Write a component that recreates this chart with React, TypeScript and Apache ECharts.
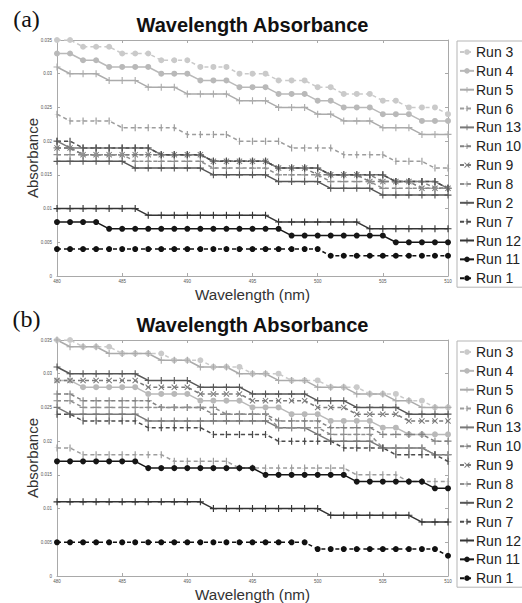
import React, { useEffect, useRef } from "react";
import * as echarts from "echarts";

const wavelengths = [480, 481, 482, 483, 484, 485, 486, 487, 488, 489, 490, 491, 492, 493, 494, 495, 496, 497, 498, 499, 500, 501, 502, 503, 504, 505, 506, 507, 508, 509, 510];

const runNames = ["Run 3", "Run 4", "Run 5", "Run 6", "Run 13", "Run 10", "Run 9", "Run 8", "Run 2", "Run 7", "Run 12", "Run 11", "Run 1"];

// ---------- Panel (a) ----------
const a_run3 = [0.035,0.035,0.034,0.034,0.034,0.033,0.033,0.033,0.032,0.032,0.032,0.031,0.031,0.031,0.030,0.030,0.030,0.029,0.029,0.029,0.028,0.028,0.027,0.027,0.027,0.026,0.026,0.025,0.025,0.025,0.024];
const a_run4 = [0.033,0.033,0.032,0.032,0.031,0.031,0.031,0.031,0.030,0.030,0.030,0.029,0.029,0.029,0.028,0.028,0.028,0.027,0.027,0.027,0.026,0.026,0.025,0.025,0.025,0.024,0.024,0.024,0.023,0.023,0.023];
const a_run5 = [0.031,0.030,0.030,0.030,0.029,0.029,0.029,0.028,0.028,0.028,0.027,0.027,0.027,0.027,0.026,0.026,0.026,0.025,0.025,0.025,0.024,0.024,0.023,0.023,0.023,0.022,0.022,0.022,0.021,0.021,0.021];
const a_run6 = [0.024,0.023,0.023,0.023,0.023,0.022,0.022,0.022,0.022,0.022,0.021,0.021,0.021,0.021,0.020,0.020,0.020,0.020,0.019,0.019,0.019,0.019,0.018,0.018,0.018,0.018,0.017,0.017,0.017,0.016,0.016];
const a_run13 = [0.020,0.019,0.019,0.019,0.019,0.019,0.019,0.019,0.018,0.018,0.018,0.018,0.017,0.017,0.017,0.017,0.017,0.016,0.016,0.016,0.016,0.015,0.015,0.015,0.015,0.015,0.014,0.014,0.014,0.014,0.013];
const a_run10 = [0.019,0.019,0.018,0.018,0.018,0.018,0.018,0.018,0.018,0.018,0.018,0.018,0.017,0.017,0.017,0.017,0.017,0.016,0.016,0.016,0.016,0.015,0.015,0.015,0.015,0.014,0.014,0.014,0.014,0.013,0.013];
const a_run9 = [0.019,0.019,0.018,0.018,0.018,0.018,0.018,0.018,0.018,0.018,0.018,0.018,0.017,0.017,0.017,0.017,0.017,0.016,0.016,0.016,0.015,0.015,0.015,0.015,0.014,0.014,0.014,0.014,0.013,0.013,0.013];
const a_run8 = [0.018,0.018,0.018,0.018,0.018,0.018,0.017,0.017,0.017,0.017,0.017,0.017,0.016,0.016,0.016,0.016,0.016,0.015,0.015,0.015,0.015,0.014,0.014,0.014,0.014,0.013,0.013,0.013,0.013,0.013,0.013];
const a_run2 = [0.017,0.017,0.017,0.017,0.017,0.017,0.016,0.016,0.016,0.016,0.016,0.016,0.015,0.015,0.015,0.015,0.015,0.014,0.014,0.014,0.014,0.013,0.013,0.013,0.013,0.012,0.012,0.012,0.012,0.012,0.012];
const a_run7 = [0.020,0.020,0.019,0.019,0.019,0.019,0.019,0.019,0.018,0.018,0.018,0.018,0.017,0.017,0.017,0.017,0.017,0.016,0.016,0.016,0.016,0.015,0.015,0.015,0.015,0.015,0.014,0.014,0.014,0.014,0.013];
const a_run12 = [0.010,0.010,0.010,0.010,0.010,0.010,0.010,0.009,0.009,0.009,0.009,0.009,0.009,0.009,0.009,0.009,0.009,0.008,0.008,0.008,0.008,0.008,0.008,0.008,0.007,0.007,0.007,0.007,0.007,0.007,0.007];
const a_run11 = [0.008,0.008,0.008,0.008,0.007,0.007,0.007,0.007,0.007,0.007,0.007,0.007,0.007,0.007,0.007,0.007,0.007,0.007,0.006,0.006,0.006,0.006,0.006,0.006,0.006,0.006,0.005,0.005,0.005,0.005,0.005];
const a_run1 = [0.004,0.004,0.004,0.004,0.004,0.004,0.004,0.004,0.004,0.004,0.004,0.004,0.004,0.004,0.004,0.004,0.004,0.004,0.004,0.004,0.004,0.003,0.003,0.003,0.003,0.003,0.003,0.003,0.003,0.003,0.003];

// ---------- Panel (b) ----------
const b_run3 = [0.035,0.035,0.034,0.034,0.034,0.033,0.033,0.033,0.033,0.032,0.032,0.032,0.031,0.031,0.031,0.030,0.030,0.030,0.029,0.029,0.029,0.028,0.028,0.028,0.027,0.027,0.027,0.026,0.026,0.025,0.025];
const b_run4 = [0.029,0.029,0.028,0.028,0.028,0.028,0.028,0.027,0.027,0.027,0.027,0.026,0.026,0.026,0.026,0.025,0.025,0.025,0.024,0.024,0.024,0.023,0.023,0.023,0.023,0.022,0.022,0.021,0.021,0.021,0.021];
const b_run5 = [0.035,0.034,0.034,0.034,0.033,0.033,0.033,0.033,0.032,0.032,0.032,0.031,0.031,0.031,0.030,0.030,0.030,0.029,0.029,0.029,0.028,0.028,0.028,0.027,0.027,0.027,0.026,0.026,0.025,0.025,0.025];
const b_run6 = [0.019,0.019,0.018,0.018,0.018,0.018,0.018,0.018,0.018,0.017,0.017,0.017,0.017,0.017,0.016,0.016,0.016,0.016,0.016,0.016,0.016,0.016,0.016,0.015,0.015,0.015,0.015,0.014,0.014,0.014,0.014];
const b_run13 = [0.025,0.024,0.024,0.024,0.024,0.024,0.024,0.023,0.023,0.023,0.023,0.023,0.023,0.023,0.023,0.023,0.023,0.022,0.022,0.022,0.021,0.020,0.020,0.020,0.020,0.019,0.019,0.019,0.019,0.018,0.018];
const b_run10 = [0.027,0.027,0.026,0.026,0.026,0.026,0.026,0.026,0.025,0.025,0.025,0.025,0.024,0.024,0.024,0.024,0.024,0.023,0.023,0.023,0.023,0.022,0.022,0.022,0.022,0.021,0.021,0.021,0.021,0.020,0.020];
const b_run9 = [0.029,0.029,0.029,0.029,0.029,0.029,0.029,0.028,0.028,0.028,0.028,0.027,0.027,0.027,0.027,0.026,0.026,0.026,0.026,0.026,0.025,0.025,0.025,0.024,0.024,0.024,0.024,0.023,0.023,0.023,0.023];
const b_run8 = [0.026,0.026,0.025,0.025,0.025,0.025,0.025,0.025,0.025,0.025,0.025,0.025,0.025,0.024,0.024,0.024,0.024,0.022,0.022,0.022,0.022,0.021,0.021,0.021,0.021,0.019,0.019,0.019,0.019,0.018,0.018];
const b_run2 = [0.031,0.030,0.030,0.030,0.030,0.030,0.030,0.029,0.029,0.029,0.029,0.028,0.028,0.028,0.028,0.027,0.027,0.027,0.027,0.027,0.026,0.026,0.026,0.025,0.025,0.025,0.025,0.024,0.024,0.024,0.024];
const b_run7 = [0.024,0.024,0.023,0.023,0.023,0.023,0.023,0.022,0.022,0.022,0.022,0.022,0.021,0.021,0.021,0.021,0.021,0.020,0.020,0.020,0.020,0.020,0.019,0.019,0.019,0.019,0.018,0.018,0.018,0.018,0.017];
const b_run12 = [0.011,0.011,0.011,0.011,0.011,0.011,0.011,0.011,0.011,0.011,0.011,0.011,0.010,0.010,0.010,0.010,0.010,0.010,0.010,0.010,0.010,0.009,0.009,0.009,0.009,0.009,0.009,0.009,0.008,0.008,0.008];
const b_run11 = [0.017,0.017,0.017,0.017,0.017,0.017,0.017,0.016,0.016,0.016,0.016,0.016,0.016,0.016,0.016,0.016,0.015,0.015,0.015,0.015,0.015,0.015,0.015,0.014,0.014,0.014,0.014,0.014,0.014,0.013,0.013];
const b_run1 = [0.005,0.005,0.005,0.005,0.005,0.005,0.005,0.005,0.005,0.005,0.005,0.005,0.005,0.005,0.005,0.005,0.005,0.005,0.005,0.005,0.004,0.004,0.004,0.004,0.004,0.004,0.004,0.004,0.004,0.004,0.003];

const panelA: Record<string, number[]> = {
  "Run 3": a_run3, "Run 4": a_run4, "Run 5": a_run5, "Run 6": a_run6, "Run 13": a_run13,
  "Run 10": a_run10, "Run 9": a_run9, "Run 8": a_run8, "Run 2": a_run2, "Run 7": a_run7,
  "Run 12": a_run12, "Run 11": a_run11, "Run 1": a_run1,
};
const panelB: Record<string, number[]> = {
  "Run 3": b_run3, "Run 4": b_run4, "Run 5": b_run5, "Run 6": b_run6, "Run 13": b_run13,
  "Run 10": b_run10, "Run 9": b_run9, "Run 8": b_run8, "Run 2": b_run2, "Run 7": b_run7,
  "Run 12": b_run12, "Run 11": b_run11, "Run 1": b_run1,
};

const PLUS = "path://M0,4.2L10,4.2L10,5.8L0,5.8Z M4.2,0L5.8,0L5.8,10L4.2,10Z";
const XMARK = "path://M0,1.2L1.2,0L5,3.8L8.8,0L10,1.2L6.2,5L10,8.8L8.8,10L5,6.2L1.2,10L0,8.8L3.8,5Z";
// vertical tick with a hair-thin horizontal arm (keeps a square bounding box)
const TICK = "path://M0,4.75L10,4.75L10,5.25L0,5.25Z M3.8,0L6.2,0L6.2,10L3.8,10Z";

type Sty = { color: string; dashed: boolean; mark: "circle" | "plus" | "x" | "bar" };
const runStyles: Record<string, Sty> = {
  "Run 3": { color: "#cacaca", dashed: true, mark: "circle" },
  "Run 4": { color: "#b9b9b9", dashed: false, mark: "circle" },
  "Run 5": { color: "#ababab", dashed: false, mark: "plus" },
  "Run 6": { color: "#9d9d9d", dashed: true, mark: "bar" },
  "Run 13": { color: "#787878", dashed: false, mark: "plus" },
  "Run 10": { color: "#828282", dashed: true, mark: "plus" },
  "Run 9": { color: "#7a7a7a", dashed: true, mark: "x" },
  "Run 8": { color: "#8f8f8f", dashed: true, mark: "plus" },
  "Run 2": { color: "#575757", dashed: false, mark: "plus" },
  "Run 7": { color: "#4b4b4b", dashed: true, mark: "bar" },
  "Run 12": { color: "#343434", dashed: false, mark: "plus" },
  "Run 11": { color: "#161616", dashed: false, mark: "circle" },
  "Run 1": { color: "#111111", dashed: true, mark: "circle" },
};

function symbolFor(m: Sty["mark"]): { symbol: string; symbolSize: number | number[] } {
  if (m === "circle") return { symbol: "circle", symbolSize: 6 };
  if (m === "plus") return { symbol: PLUS, symbolSize: 7 };
  if (m === "x") return { symbol: XMARK, symbolSize: 6 };
  return { symbol: TICK, symbolSize: [5, 7] };
}

const FONT = "'Liberation Sans', Arial, Helvetica, sans-serif";
const FRAME = "#a9a9a9";

function buildSeries(panel: Record<string, number[]>, axisIndex: number) {
  return runNames.map((name) => {
    const st = runStyles[name];
    const sym = symbolFor(st.mark);
    return {
      type: "line",
      name,
      xAxisIndex: axisIndex,
      yAxisIndex: axisIndex,
      data: wavelengths.map((w, i) => [w, panel[name][i]]),
      symbol: sym.symbol,
      symbolSize: sym.symbolSize,
      showSymbol: true,
      showAllSymbol: true,
      lineStyle: { color: st.color, width: 1.5, type: st.dashed ? [4, 3] : "solid" },
      itemStyle: { color: st.color, borderWidth: 0 },
      emphasis: { disabled: true },
      silent: true,
    };
  });
}

function xAxisPair(gridIndex: number) {
  const common = {
    type: "value",
    gridIndex,
    min: 480,
    max: 510,
    interval: 5,
    axisLine: { show: true, onZero: false, lineStyle: { color: FRAME, width: 1 } },
    axisTick: { show: true, inside: true, length: 3, lineStyle: { color: FRAME } },
    splitLine: { show: false },
  };
  return [
    { ...common, position: "bottom", axisLabel: { show: true, fontSize: 4.5, color: "#555", margin: 3, fontFamily: FONT } },
    { ...common, position: "top", axisLabel: { show: false } },
  ];
}

function yAxisPair(gridIndex: number) {
  const common = {
    type: "value",
    gridIndex,
    min: 0,
    max: 0.035,
    interval: 0.005,
    axisLine: { show: true, onZero: false, lineStyle: { color: FRAME, width: 1 } },
    axisTick: { show: true, inside: true, length: 3, lineStyle: { color: FRAME } },
    splitLine: { show: false },
  };
  return [
    {
      ...common,
      position: "left",
      axisLabel: {
        show: true, fontSize: 4.5, color: "#555", margin: 5, fontFamily: FONT,
        formatter: (v: number) => (v === 0 ? "0" : String(parseFloat(v.toFixed(3)))),
      },
    },
    { ...common, position: "right", axisLabel: { show: false } },
  ];
}

function legendAt(top: number) {
  return {
    orient: "vertical",
    left: 457,
    top,
    data: runNames,
    itemWidth: 14,
    itemHeight: 7,
    itemGap: 4.85,
    padding: [4, 40, 2, 2],
    borderColor: "#b5b5b5",
    borderWidth: 1,
    selectedMode: false,
    symbolKeepAspect: true,
    textStyle: { fontSize: 14, lineHeight: 14, color: "#222", fontFamily: FONT, padding: [0, 0, 0, -3] },
  };
}

function panelTexts(dy: number, label: string) {
  return [
    {
      type: "text", x: 26.5, y: 18.5 + dy,
      style: { text: label, fontSize: 24, fontFamily: "'Liberation Serif', 'Times New Roman', serif", fill: "#111", align: "center", verticalAlign: "middle" },
    },
    {
      type: "text", x: 252.5, y: 24.8 + dy,
      style: { text: "Wavelength Absorbance", fontSize: 20, fontWeight: "bold", fontFamily: FONT, fill: "#111", align: "center", verticalAlign: "middle" },
    },
    {
      type: "text", x: 32.5, y: 158 + dy, rotation: Math.PI / 2,
      style: { text: "Absorbance", fontSize: 15, fontFamily: FONT, fill: "#333", align: "center", verticalAlign: "middle" },
    },
    {
      type: "text", x: 252.5, y: 294.5 + dy,
      style: { text: "Wavelength (nm)", fontSize: 15.2, fontFamily: FONT, fill: "#333", align: "center", verticalAlign: "middle" },
    },
  ];
}

export default function App() {
  const ref = useRef<HTMLDivElement>(null);
  useEffect(() => {
    if (!ref.current) return;
    const chart = echarts.init(ref.current, undefined, { renderer: "svg" });
    const option = {
      animation: false,
      backgroundColor: "#ffffff",
      textStyle: { fontFamily: FONT },
      grid: [
        { left: 57, top: 40, width: 391, height: 236, show: false },
        { left: 57, top: 340, width: 391, height: 236, show: false },
      ],
      xAxis: [...xAxisPair(0), ...xAxisPair(1)],
      yAxis: [...yAxisPair(0), ...yAxisPair(1)],
      legend: [legendAt(41), legendAt(341)],
      graphic: [...panelTexts(0, "(a)"), ...panelTexts(300, "(b)")],
      series: [...buildSeries(panelA, 0), ...buildSeries(panelB, 2)],
    };
    chart.setOption(option as any);
    return () => chart.dispose();
  }, []);
  return <div ref={ref} style={{ position: "absolute", left: 0, top: 0, width: 522, height: 603, overflow: "hidden" }} />;
}
